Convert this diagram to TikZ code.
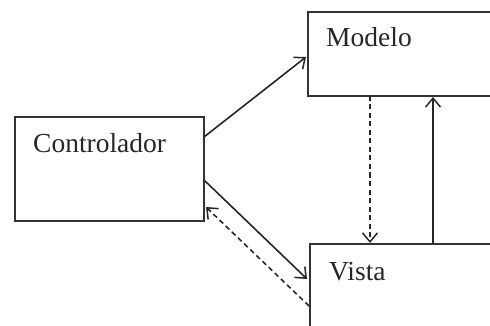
\documentclass[tikz,border=0pt]{standalone}
\usepackage{fontspec}
\setmainfont{Liberation Serif}
\usetikzlibrary{arrows.meta}
\begin{document}
\begin{tikzpicture}[x=1pt,y=-1pt,
  box/.style={draw=black!80, line width=1.7pt, rectangle, inner sep=0pt, outer sep=0pt, anchor=north west},
  lbl/.style={anchor=base west, inner sep=0pt, text=black!85, font=\fontsize{27.5}{32}\selectfont},
  arr/.style={draw=black!85, line width=1.6pt, -{Straight Barb[length=9pt,width=15pt,line width=1.5pt]}},
  darr/.style={arr, dash pattern=on 5pt off 3.5pt}]
\useasboundingbox (0,0) rectangle (490,326);
\clip (0,0) rectangle (490,326);
\node[box, minimum width=192pt, minimum height=84pt] (modelo) at (308,12) {};
\node[box, minimum width=189pt, minimum height=104pt] (ctrl) at (15,117) {};
\node[box, minimum width=190pt, minimum height=100pt] (vista) at (310,244) {};
\node[lbl] (tmodelo) at (326,47) {Modelo};
\node[lbl] (tctrl) at (33,153) {Controlador};
\node[lbl] (tvista) at (329,280) {Vista};
\draw[arr] ([shift={(0,20)}]ctrl.north east) -- ([shift={(-2,3)}]modelo.west);
\draw[arr] ([shift={(0,63)}]ctrl.north east) -- ([shift={(-3,-15)}]vista.west);
\draw[darr] ([shift={(-1,12)}]vista.west) -- ([shift={(2,-14)}]ctrl.south east);
\draw[darr] ([shift={(62,0)}]modelo.south west) -- ([shift={(60,-1)}]vista.north west);
\draw[arr] ([shift={(123,0)}]vista.north west) -- ([shift={(125,1)}]modelo.south west);
\end{tikzpicture}
\end{document}
